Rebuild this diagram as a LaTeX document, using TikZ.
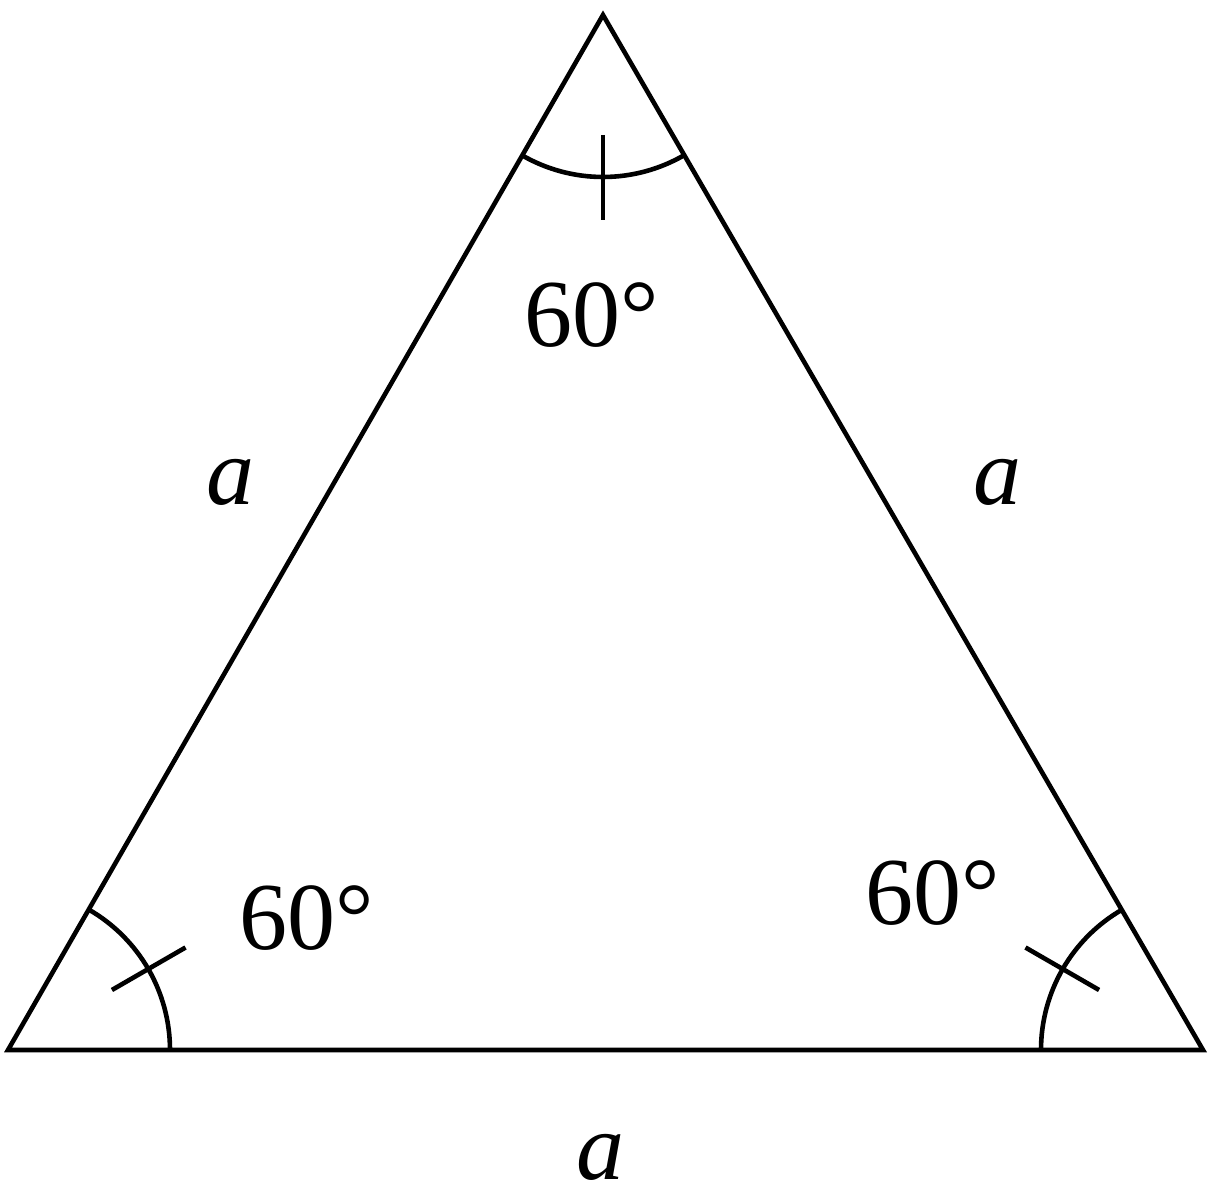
\documentclass[tikz,border=0pt]{standalone}
\usepackage{fontspec}
\setmainfont{Liberation Serif}
\usetikzlibrary{calc}
\begin{document}
\begin{tikzpicture}[x=1pt,y=1pt,
  edge/.style={line width=4.6pt,line join=miter},
  anglemark/.style={line width=4.6pt},
  lbl/.style={inner sep=0pt,font=\fontsize{96}{110}\selectfont}]
\useasboundingbox (0,0) rectangle (1216,1200);
\coordinate (T) at (603,1185);
\coordinate (L) at (8,150);
\coordinate (R) at (1203,150);
\draw[edge] (L) -- (R) -- (T) -- cycle;
% angle arcs
\draw[anglemark] ($(L)+(0:162)$) arc (0:60:162);
\draw[anglemark] ($(R)+(120:162)$) arc (120:180:162);
\draw[anglemark] ($(T)+(240:162)$) arc (240:300:162);
% ticks
\draw[anglemark] ($(L)+(30:120)$) -- ($(L)+(30:205)$);
\draw[anglemark] ($(R)+(150:120)$) -- ($(R)+(150:205)$);
\draw[anglemark] ($(T)+(270:120)$) -- ($(T)+(270:205)$);
% labels
\node[lbl] (aT) at (592,885) {60°};
\node[lbl] (aL) at (307,282) {60°};
\node[lbl] (aR) at (933,307) {60°};
\node[lbl] (sL) at (230,718) {\itshape a};
\node[lbl] (sR) at (997,718) {\itshape a};
\node[lbl] (sB) at (600,43) {\itshape a};
\end{tikzpicture}
\end{document}
